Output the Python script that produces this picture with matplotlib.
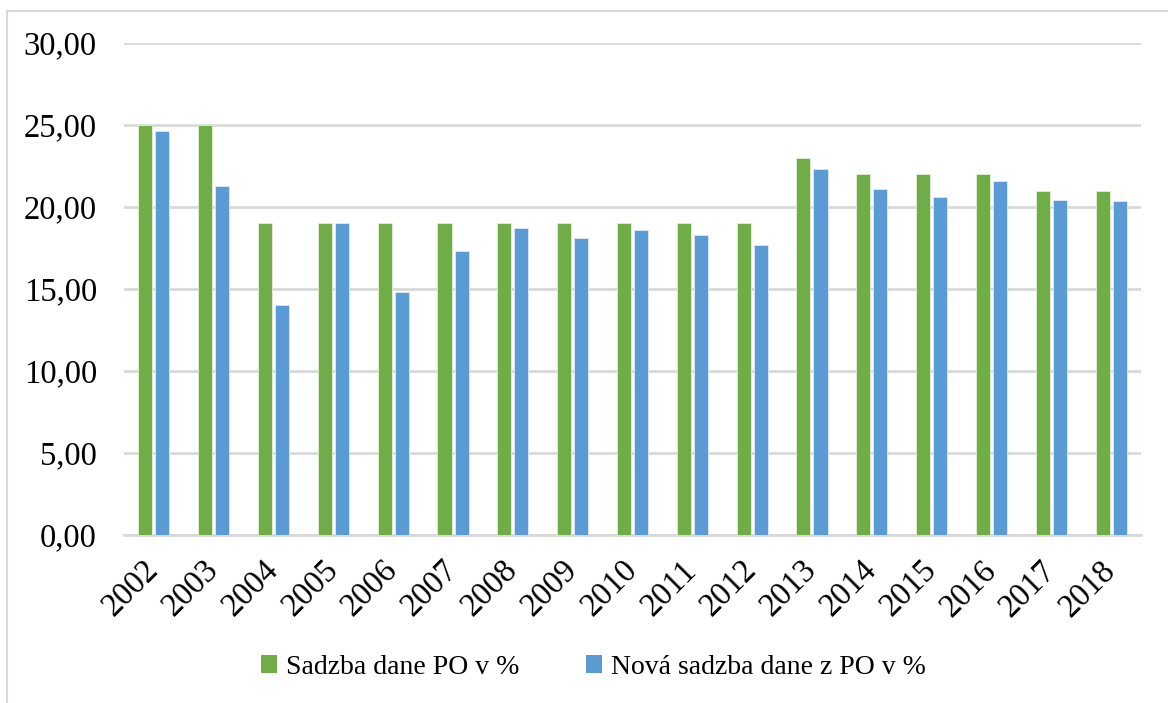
import matplotlib
matplotlib.use("Agg")
import matplotlib.pyplot as plt
import numpy as np
from matplotlib.lines import Line2D
from matplotlib.patches import Patch

years = ["2002", "2003", "2004", "2005", "2006", "2007", "2008", "2009", "2010",
         "2011", "2012", "2013", "2014", "2015", "2016", "2017", "2018"]
sadzba = [25, 25, 19, 19, 19, 19, 19, 19, 19, 19, 19, 23, 22, 22, 22, 21, 21]
nova_sadzba = [24.65, 21.3, 14.0, 19.0, 14.8, 17.3, 18.7, 18.1, 18.6, 18.3, 17.7,
               22.3, 21.1, 20.6, 21.6, 20.45, 20.35]
yticks = [0, 5, 10, 15, 20, 25, 30]
ytick_labels = ["0,00", "5,00", "10,00", "15,00", "20,00", "25,00", "30,00"]
series_names = ["Sadzba dane PO v %", "Nová sadzba dane z PO v %"]

green = "#70AD47"
blue = "#5B9BD5"
grid_c = "#D9D9D9"

plt.rcParams['font.family'] = ['Liberation Serif', 'DejaVu Serif']

W, H = 1168, 703
fig = plt.figure(figsize=(W / 100, H / 100), dpi=100)
ax = fig.add_axes([124 / W, 1 - 535 / H, (1141 - 124) / W, (535 - 43) / H])

x = np.arange(len(years))
bw = 0.235
off = 0.1425
ax.bar(x - off, sadzba, width=bw, color=green, edgecolor="#E2F0D9", linewidth=0.6, zorder=3)
ax.bar(x + off, nova_sadzba, width=bw, color=blue, edgecolor="#DEEBF7", linewidth=0.6, zorder=3)

ax.set_xlim(-0.5, len(years) - 0.5)
ax.set_ylim(0, 30)
ax.set_yticks(yticks)
ax.set_yticklabels(ytick_labels, fontsize=23.5)
ax.yaxis.grid(True, color=grid_c, linewidth=2.0, zorder=0)
ax.set_axisbelow(True)
for s in ["top", "right", "left"]:
    ax.spines[s].set_visible(False)
ax.spines["bottom"].set_color(grid_c)
ax.spines["bottom"].set_linewidth(2.0)
ax.tick_params(axis="both", length=0)
ax.tick_params(axis="y", pad=19.5)

ax.set_xticks(x)
ax.set_xticklabels(years, fontsize=23.5, rotation=45, ha="right", va="center",
                   rotation_mode="anchor")
ax.tick_params(axis="x", pad=22)

handles = [Patch(facecolor=green, edgecolor="none"), Patch(facecolor=blue, edgecolor="none")]
fig.legend(handles, series_names, loc="center", bbox_to_anchor=(593 / W, 1 - 667 / H),
           ncol=2, frameon=False, fontsize=20, handlelength=0.6, handleheight=0.6,
           handletextpad=0.3, columnspacing=2.4)

# outer chart border (left and top visible)
fig.add_artist(Line2D([7 / W, 7 / W], [0, 1 - 11 / H], transform=fig.transFigure,
                      color="#D9D9D9", linewidth=1.5))
fig.add_artist(Line2D([7 / W, 1], [1 - 11 / H, 1 - 11 / H], transform=fig.transFigure,
                      color="#D9D9D9", linewidth=1.5))

fig.savefig("out.png", dpi=100)
